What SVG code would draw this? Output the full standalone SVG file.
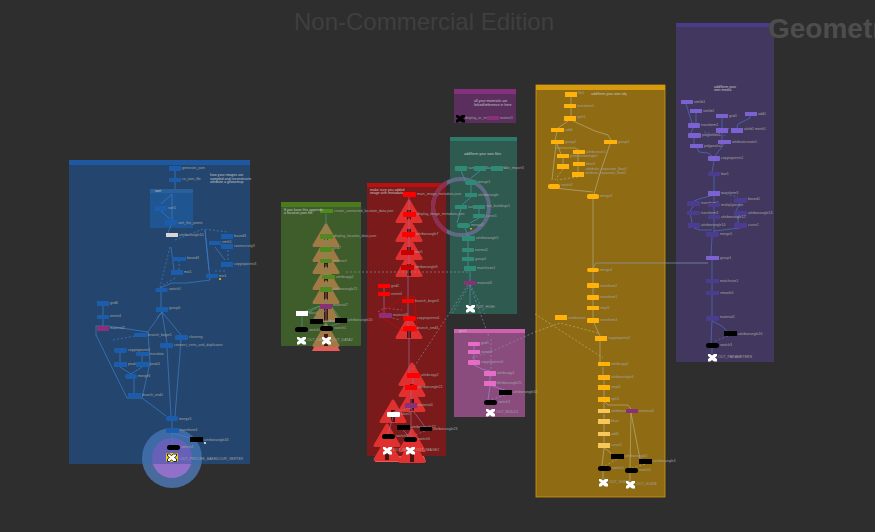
<svg xmlns="http://www.w3.org/2000/svg" xmlns:xlink="http://www.w3.org/1999/xlink" width="875" height="532" viewBox="0 0 875 532">
<style>
text{font-family:"Liberation Sans",Arial,sans-serif}
.l{font-size:3.6px;fill:#a2a2a2}
.c{font-size:3.6px;fill:#c4c4c4}
.w{font-size:24px;fill:#3f3f3f}
.g{font-size:28px;fill:#4d4d4d;font-weight:bold}
.bl{fill:#1b5cab}.gr{fill:#4f8a1f}.rd{fill:#ff0000}.rk{fill:#c80000}.pu{fill:#8a2f78}.te{fill:#2f8a76}.go{fill:#ffb30a}.gl{fill:#f8c75a}
.vi{fill:#7b62d0}.vd{fill:#4c3c90}.pk{fill:#e66cc6}.k{fill:#000}.wh{fill:#fff}.li{fill:#d6d6d6}
#conn path{fill:none;stroke-width:.8;stroke-opacity:.85}
.s1{stroke:#3f80cc}.s2{stroke:#4f9a8a}.s3{stroke:#a06a9a}.s4{stroke:#4f9ab4}.s5{stroke:#b8ae84}.s6{stroke:#4f72c8}.s7{stroke:#a086d8}.s8{stroke:#8f8aa8}
.d{stroke-dasharray:2 2}
</style>
<defs>
<clipPath id="upper"><rect x="100" y="400" width="150" height="64"/></clipPath>
<clipPath id="lower"><rect x="100" y="464" width="150" height="60"/></clipPath>
<clipPath id="ringL"><rect x="425" y="170" width="22" height="80"/></clipPath>
<g id="t"><path d="M0,0L12,20.500L-12,20.500Z" stroke-width="3" stroke-linejoin="round"/><rect x="-2" y="9" width="4" height="12" fill="#4a1510" stroke="none"/></g>
<path id="x" d="M0,0h2l2,1.500l2,-1.500h3v2l-2,1.500l2,1.500v2.500h-3l-2,-1.500l-2,1.500h-2v-2.500l2,-1.500l-2,-1.500z"/>
</defs>
<rect width="875" height="532" fill="#2e2e2e"/>
<text class="w" x="424" y="30" text-anchor="middle">Non-Commercial Edition</text>
<g id="boxes">
<rect x="69" y="160" width="181" height="304" fill="#24466e"/><rect x="69" y="160" width="181" height="5" fill="#1d58a0"/>
<rect x="150" y="189" width="43" height="39" fill="#1f5590"/><rect x="150" y="189" width="43" height="4" fill="#2a6099"/><text class="c" x="155" y="192">sort</text>
<rect x="281" y="202" width="80" height="144" rx="1" fill="#3f5d2b"/><rect x="281" y="202" width="80" height="5" fill="#4e7a1f"/>
<rect x="367" y="183" width="79" height="273" fill="#7a1a1a"/><rect x="367" y="183" width="79" height="4" fill="#bb1010"/>
<rect x="454" y="89" width="62" height="34" fill="#5a2f5d"/><rect x="454" y="89" width="62" height="5" fill="#85307c"/>
<rect x="450" y="137" width="67" height="177" fill="#2f5a50"/><rect x="450" y="137" width="67" height="4" fill="#2b7a6a"/>
<rect x="454" y="329" width="71" height="88" fill="#8a4c7d"/><rect x="454" y="329" width="71" height="4" fill="#d060b0"/>
<rect x="536" y="85" width="129" height="412" fill="#8f6c14" stroke="#cf9a10" stroke-width=".8"/><rect x="536" y="85" width="129" height="5" fill="#d69a0e"/>
<rect x="676" y="23" width="98" height="339" fill="#42375e"/><rect x="676" y="23" width="98" height="4" fill="#4a3c88"/>
</g>
<text class="g" x="768" y="38">Geometry</text>
<g id="marks">
<circle cx="172" cy="458" r="30" fill="#3e6aa6" clip-path="url(#upper)"/>
<circle cx="172" cy="458" r="30" fill="#486a9c" clip-path="url(#lower)"/>
<circle cx="172" cy="458" r="20" fill="#6660b8" clip-path="url(#upper)"/>
<circle cx="172" cy="458" r="20" fill="#9170c9" clip-path="url(#lower)"/>
<circle cx="461" cy="207" r="28" fill="none" stroke="#5f6b84" stroke-width="4"/>
<circle cx="461" cy="207" r="28" fill="none" stroke="#8e2f50" stroke-width="4" clip-path="url(#ringL)"/>
<path d="M314,347h24l2,4h-28z" fill="#e85a5a"/>
<g fill="#a07a45" stroke="#a07a45">
<use xlink:href="#t" x="326" y="225"/><use xlink:href="#t" x="326" y="240"/><use xlink:href="#t" x="326" y="252"/><use xlink:href="#t" x="326" y="268"/><use xlink:href="#t" x="326" y="282"/><use xlink:href="#t" x="326" y="300"/><use xlink:href="#t" x="326" y="325"/>
</g>
<path d="M376,456h48l2,6h-51z" fill="#ec5a5a"/>
<g fill="#e03030" stroke="#e03030">
<use xlink:href="#t" x="409" y="201"/><use xlink:href="#t" x="409" y="220"/><use xlink:href="#t" x="409" y="238"/><use xlink:href="#t" x="409" y="255"/><use xlink:href="#t" x="409" y="317"/>
<use xlink:href="#t" x="412" y="364"/><use xlink:href="#t" x="412" y="375"/><use xlink:href="#t" x="412" y="390"/><use xlink:href="#t" x="393" y="401"/><use xlink:href="#t" x="387" y="425"/><use xlink:href="#t" x="412" y="430"/><use xlink:href="#t" x="387" y="439"/><use xlink:href="#t" x="412" y="441"/>
</g>
</g>
<g id="conn">
<path class="s1" d="M175,171V178M175,182V189M172,194L161,204M172,194L172,220M161,211L170,219M171,225L168,233M171,247L174,270M160,288L172,283H187L210,280L205,230L209,270M215,247L225,260M161,291V307M162,312L157,318"/>
<path class="s1" d="M103,306V315M103,319V326M96,326H108L148,332L150,363L142,398H127L96,335ZM142,398L166,416M162,312L147,333M162,312L181,335M162,312L167,343M167,348L171,416M181,340L175,416M172,421V428M120,353V362M142,356V362M120,367L131,374M142,367L131,374M134,379V393M172,433L190,438M172,433V445"/>
<path class="s1 d" d="M170,247L160,287M179,260V270M175,278L160,287M175,240L203,229L227,232M228,250V262M215,271H225M113,340L140,335"/>
<path class="s2" d="M326,214V234M326,240V247M326,252V259M326,264V275M326,280V287M326,292V304M326,309V326M320,306L306,311M302,316V327M320,306L305,314M332,307L340,318M326,310L316,319M340,323L330,326"/>
<path class="s3" d="M409,197V212M409,217V232M409,237V250M409,255V265M408,270V299M384,288V292M384,296V313M408,303V316M408,321V326M409,331V373M413,378V385M411,390V403M411,408L393,412M411,408V437M411,408L425,427M393,417L388,434M403,430L410,437"/>
<path class="s3 d" d="M378,312L384,308L402,310M385,316L400,320M425,431L410,437"/>
<path d="M378,315L403,297H415L417,331H403Z" fill="none" stroke="#e00000" stroke-width=".7"/>
<path class="s4" d="M461,171L465,180M480,171L471,178M471,183V193M471,197L462,205M479,209V214M479,218L470,223M461,209L457,223M465,228L468,236M468,241V248M468,252V257M468,261V266M470,271V281M470,285V305"/>
<path class="s4 d" d="M470,284L452,314M470,284L485,314"/>
<path class="s8 d" d="M468,272L345,272M468,285L412,370M470,285L489,337M491,339L491,378M533,333L495,350L472,358"/>
<path class="s7" d="M474,346V350M474,354L474,360M474,365L482,369L490,371M490,376V381M492,386L505,390M490,386L488,400"/>
<path class="s7 d" d="M505,395L490,400M492,384L500,381"/>
<path class="s5" d="M571,97V104M571,108V116M568,121L558,128M557,132L555,140M573,121L595,131L608,135L611,140M610,144L600,173L594,194M556,144L552,180M557,144L561,154M556,148L575,148L579,150M563,158V164M578,154V162M578,166V172M554,188L593,192M593,199V268M593,272V283M593,288V295M593,300V306M593,310V318M594,323L600,336M600,341V362M603,367V375M604,380V385M604,390V397M604,402V409M604,414V419M604,424V432M604,436V443M604,448L602,466M604,448L610,452L611,454M605,402L608,405L628,405L631,409M631,413L630,468M631,413L640,459M603,471V479M630,473V481"/>
<path class="s5 d" d="M563,169L555,180M578,177L557,180M617,459L605,466M645,464L632,468M535,332L560,323L598,333M535,314L603,358"/>
<path d="M593,268L596,263H708" stroke="#8f9eb0"/>
<path class="s6" d="M686,104L692,123M696,113V123M693,128L691,133M722,118V128M722,133V140M750,116V118L738,124L737,128M694,138V144M697,148L699,152L708,153L712,156M724,144L715,156M714,161L712,172M714,176V191M714,195L699,199L694,201M714,195V203M694,205L690,211L692,223M714,207V215M714,219V232M740,203L736,211M738,216V223M694,228L700,230L712,230M740,228L714,231M712,237L711,256M712,260V279M712,283V291M712,295V316M712,321L722,326L727,331M712,321L711,343M712,348V354"/>
<path class="s6 d" d="M728,336L715,341M729,128L724,136M714,191L738,197M704,132L722,136"/>
</g>
<g id="n-gen"><rect class="bl" x="169" y="166" width="12" height="5"/><text class="l" x="182" y="169">generate_json</text></g>
<g id="n-cx"><rect class="bl" x="169" y="178" width="12" height="4"/><text class="l" x="182" y="180">cx_json_file</text></g>
<g id="n-note1"><text class="c" x="210" y="176">how your images are</text><text class="c" x="210" y="180">sampled and reconstructs</text><text class="c" x="210" y="183">attribute a gl/warmup</text></g>
<g id="n-sort"><rect class="bl" x="155" y="206" width="12" height="5"/><text class="l" x="168" y="209">sort1</text></g>
<g id="n-sortpts"><rect class="bl" x="165" y="220" width="12" height="5"/><text class="l" x="178" y="224">sort_the_points</text></g>
<g id="n-attr1"><rect class="li" x="166" y="233" width="12" height="4"/><text class="l" x="179" y="236">attribwrangle10</text></g>
<g id="n-b3"><rect class="bl" x="172" y="257" width="14" height="4"/><text class="l" x="187" y="259">bound3</text></g>
<g id="n-mix1"><rect class="bl" x="171" y="270" width="12" height="5"/><text class="l" x="184" y="273">mix1</text></g>
<g id="n-sm"><rect class="bl" x="209" y="241" width="12" height="4"/><text class="l" x="222" y="243">smth1</text></g>
<g id="n-b2"><rect class="bl" x="221" y="234" width="12" height="5"/><text class="l" x="234" y="237">bound3</text></g>
<g id="n-cn"><rect class="bl" x="221" y="244" width="12" height="5"/><text class="l" x="234" y="247">connectivity3</text></g>
<g id="n-cp"><rect class="bl" x="221" y="262" width="12" height="5"/><text class="l" x="234" y="265">copytopoints3</text></g>
<g id="n-mix2"><rect class="bl" x="206" y="274" width="12" height="4"/><text class="l" x="219" y="277">mix1</text></g>
<rect x="219" y="278" width="2" height="2" fill="#e0a010"/>
<g id="n-sw"><rect class="bl" x="155" y="288" width="13" height="4" rx="2"/><text class="l" x="169" y="290">switch1</text></g>
<g id="n-gp"><rect class="bl" x="156" y="307" width="12" height="5" rx="1"/><text class="l" x="169" y="309">group6</text></g>
<g id="n-grid"><rect class="bl" x="97" y="301" width="12" height="5"/><text class="l" x="110" y="304">grid6</text></g>
<g id="n-or"><rect class="bl" x="97" y="315" width="12" height="4"/><text class="l" x="110" y="317">orient4</text></g>
<g id="n-mt"><rect class="pu" x="97" y="326" width="12" height="5" rx="1"/><text class="l" x="110" y="329">material2</text></g>
<g id="n-bb"><rect class="bl" x="134" y="333" width="13" height="4" rx="1"/><text class="l" x="148" y="336">branch_begin1</text></g>
<g id="n-cl"><rect class="bl" x="175" y="335" width="13" height="5" rx="1"/><text class="l" x="189" y="338">cleaning</text></g>
<g id="n-cv"><rect class="bl" x="160" y="343" width="13" height="5" rx="1"/><text class="l" x="174" y="346">connect_verts_and_duplicates</text></g>
<g id="n-ctp"><rect class="bl" x="114" y="348" width="13" height="5" rx="2"/><text class="l" x="128" y="351">copytopoints2</text></g>
<g id="n-tr"><rect class="bl" x="136" y="352" width="13" height="4" rx="1"/><text class="l" x="150" y="355">translate</text></g>
<g id="n-p1"><rect class="bl" x="114" y="362" width="13" height="5"/><text class="l" x="128" y="365">peak3</text></g>
<g id="n-p2"><rect class="bl" x="136" y="362" width="13" height="5"/><text class="l" x="150" y="365">peak4</text></g>
<g id="n-mg"><rect class="bl" x="125" y="374" width="12" height="5" rx="2"/><text class="l" x="138" y="377">merge6</text></g>
<g id="n-be"><rect class="bl" x="128" y="393" width="13" height="5"/><text class="l" x="142" y="396">branch_end1</text></g>
<g id="n-mg3"><rect class="bl" x="166" y="416" width="12" height="5" rx="2"/><text class="l" x="179" y="420">merge3</text></g>
<g id="n-tf"><rect class="bl" x="166" y="428" width="13" height="5" rx="1"/><text class="l" x="180" y="431">transform4</text></g>
<g id="n-aw"><rect class="k" x="190" y="437" width="13" height="5"/><text class="l" x="204" y="441">attribwrangle43</text></g>
<rect x="204" y="442" width="2" height="2" fill="#ccc"/>
<g id="n-sw2"><rect class="k" x="167" y="445" width="13" height="5" rx="2.500"/><text class="l" x="181" y="448">switch4</text></g>
<g id="n-out"><rect x="166" y="453" width="12" height="9" rx="2" fill="#f4cc10"/><use xlink:href="#x" x="167.500" y="454" fill="#fff" stroke="#000" stroke-width=".8"/><text class="l" x="180" y="460">OUT_PROCES_BAKEDOUR_VERTEX</text></g>

<g id="n-g0"><rect class="gr" x="320" y="209" width="13" height="4"/><text class="l" x="334" y="212">create_connected_location_data.json</text></g>
<g id="n-gnote"><text class="c" x="284" y="211">If you have this appends</text><text class="c" x="284" y="214">a location.json file</text></g>
<g id="n-g1"><rect class="gr" x="320" y="234" width="13" height="5" rx="1"/><text class="l" x="334" y="237">display_location_data.json</text></g>
<g id="n-g2"><rect class="gr" x="320" y="247" width="12" height="5" rx="1"/><text class="l" x="333" y="249">grid7</text></g>
<g id="n-g3"><rect class="gr" x="320" y="259" width="12" height="4" rx="1"/><text class="l" x="333" y="262">reverse1</text></g>
<g id="n-g4"><rect class="gr" x="322" y="275" width="13" height="4" rx="1"/><text class="l" x="336" y="278">attribcopy2</text></g>
<g id="n-g5"><rect class="gr" x="320" y="287" width="12" height="5" rx="1"/><text class="l" x="333" y="290">attribwrangle21</text></g>
<g id="n-g6"><rect class="pu" x="320" y="304" width="12" height="5" rx="1"/><text class="l" x="333" y="306">material7</text></g>
<g id="n-g7"><rect class="wh" x="296" y="311" width="12" height="5"/><text class="l" x="309" y="314">blast1</text></g>
<g id="n-g8"><rect class="k" x="310" y="319" width="13" height="5"/><text class="l" x="324" y="322">attribwrangle4</text></g>
<g id="n-g9"><rect class="k" x="335" y="318" width="12" height="5"/><text class="l" x="348" y="321">attribwrangle20</text></g>
<g id="n-g10"><rect class="k" x="295" y="327" width="13" height="5" rx="2.500"/><text class="l" x="309" y="331">switch2</text></g>
<g id="n-g11"><rect class="k" x="320" y="326" width="13" height="5" rx="2.500"/><text class="l" x="334" y="329">switch1</text></g>
<g id="n-g12"><use xlink:href="#x" x="297" y="337" fill="#fff"/><text class="l" x="307" y="341">OUT_DATA1</text></g>
<g id="n-g13"><use xlink:href="#x" x="322" y="337" fill="#fff"/><text class="l" x="332" y="341">OUT_DATA2</text></g>

<g id="n-rnote"><text class="c" x="370" y="191">make sure you added</text><text class="c" x="370" y="194">image with metadata</text></g>
<g id="n-r0"><rect class="rd" x="403" y="192" width="13" height="5" rx="1"/><text class="l" x="417" y="195">main_image_metadata.json</text></g>
<g id="n-r1"><rect class="rd" x="403" y="212" width="13" height="5" rx="1"/><text class="l" x="417" y="215">display_image_metadata.json</text></g>
<g id="n-r2"><rect class="rd" x="402" y="232" width="13" height="5" rx="1"/><text class="l" x="416" y="235">attribwrangle7</text></g>
<g id="n-r3"><rect class="rk" x="401" y="250" width="13" height="5" rx="1"/><text class="l" x="415" y="253">text1</text></g>
<g id="n-r4"><rect class="rk" x="401" y="265" width="13" height="5" rx="1"/><text class="l" x="415" y="268">attribwrangle8</text></g>
<g id="n-r5"><rect class="rd" x="378" y="284" width="12" height="4"/><text class="l" x="391" y="287">grid2</text></g>
<g id="n-r6"><rect class="rd" x="378" y="292" width="12" height="4"/><text class="l" x="391" y="295">orient4</text></g>
<g id="n-r7"><rect class="rd" x="402" y="299" width="12" height="4"/><text class="l" x="415" y="302">branch_begin3</text></g>
<g id="n-r8"><rect class="pu" x="379" y="313" width="13" height="5"/><text class="l" x="393" y="316">material3</text></g>
<g id="n-r9"><rect class="rd" x="403" y="316" width="13" height="5" rx="2"/><text class="l" x="417" y="319">copytopoints4</text></g>
<g id="n-r10"><rect class="rd" x="403" y="326" width="13" height="5" rx="2"/><text class="l" x="417" y="329">branch_end3</text></g>
<g id="n-r11"><rect class="rd" x="407" y="373" width="13" height="5"/><text class="l" x="421" y="376">attribcopy2</text></g>
<g id="n-r12"><rect class="rd" x="405" y="385" width="12" height="5"/><text class="l" x="418" y="388">attribwrangle21</text></g>
<g id="n-r13"><rect class="pu" x="405" y="403" width="12" height="5"/><text class="l" x="418" y="406">material4</text></g>
<g id="n-r14"><rect class="wh" x="387" y="412" width="13" height="5" rx="1"/><text class="l" x="401" y="415">blast2</text></g>
<g id="n-r15"><rect class="k" x="397" y="425" width="13" height="5"/><text class="l" x="411" y="428">attribwrangle22</text></g>
<g id="n-r16"><rect class="k" x="420" y="427" width="12" height="4"/><text class="l" x="433" y="430">attribwrangle23</text></g>
<g id="n-r17"><rect class="k" x="382" y="434" width="13" height="5" rx="2.500"/><text class="l" x="396" y="437">switch5</text></g>
<g id="n-r18"><rect class="k" x="404" y="437" width="13" height="5" rx="2.500"/><text class="l" x="418" y="440">switch6</text></g>
<g id="n-r19"><use xlink:href="#x" x="383" y="447" fill="#fff"/><text class="l" x="393" y="451">OUT_IMG1</text></g>
<g id="n-r20"><use xlink:href="#x" x="406" y="447" fill="#fff"/><text class="l" x="416" y="451">OUT_IMAGE2</text></g>

<g id="n-mnote"><text class="c" x="474" y="102">all your materials are</text><text class="c" x="474" y="106">linked/reference in here</text></g>
<g id="n-m1"><use xlink:href="#x" x="456" y="115" fill="#000"/><text class="l" x="465" y="119">display_or_test</text></g>
<g id="n-m2"><rect class="pu" x="487" y="116" width="12" height="4"/><text class="l" x="500" y="119">matnet1</text></g>

<g id="n-tnote"><text class="c" x="464" y="155">add/form your own files</text></g>
<g id="n-t0"><rect class="te" x="455" y="166" width="12" height="5"/><text class="l" x="468" y="169">sun_import1</text></g>
<g id="n-t1"><rect class="te" x="474" y="166" width="12" height="5"/><text class="l" x="487" y="169">sun_import2</text></g>
<g id="n-t2"><rect class="te" x="491" y="166" width="12" height="5"/><text class="l" x="504" y="169">sun_import3</text></g>
<g id="n-t3"><rect class="te" x="465" y="180" width="12" height="5" rx="2"/><text class="l" x="478" y="183">merge1</text></g>
<g id="n-t4"><rect class="te" x="465" y="193" width="12" height="4"/><text class="l" x="478" y="196">attribwrangle</text></g>
<g id="n-t5"><rect class="te" x="455" y="205" width="12" height="4"/><text class="l" x="468" y="208">sun_filter1</text></g>
<g id="n-t6"><rect class="te" x="473" y="205" width="12" height="4"/><text class="l" x="486" y="207">sun_buildings1</text></g>
<g id="n-t7"><rect class="te" x="473" y="214" width="12" height="4"/><text class="l" x="486" y="217">curve1</text></g>
<g id="n-t8"><rect class="te" x="457" y="223" width="13" height="5" rx="2.500"/><text class="l" x="471" y="226">merge2</text></g>
<rect x="470" y="228" width="2" height="1.500" fill="#d8a010"/>
<g id="n-t9"><rect class="te" x="462" y="236" width="13" height="5"/><text class="l" x="476" y="239">attribwrangle5</text></g>
<g id="n-t10"><rect class="te" x="462" y="248" width="12" height="4" rx="1"/><text class="l" x="475" y="251">normal1</text></g>
<g id="n-t11"><rect class="te" x="462" y="257" width="12" height="4"/><text class="l" x="475" y="260">group1</text></g>
<g id="n-t12"><rect class="te" x="464" y="266" width="12" height="5"/><text class="l" x="477" y="269">matchsize1</text></g>
<g id="n-t13"><rect class="pu" x="464" y="281" width="12" height="4"/><text class="l" x="477" y="284">material3</text></g>
<g id="n-t14"><use xlink:href="#x" x="466" y="305" fill="#fff"/><text class="l" x="476" y="308">OUT_HIGH</text></g>

<g id="n-p0"><rect class="pk" x="468" y="342" width="12" height="4" rx="1"/><text class="l" x="481" y="344">grid1</text></g>
<g id="n-p1a"><rect class="pk" x="468" y="350" width="12" height="4"/><text class="l" x="481" y="353">orient1</text></g>
<g id="n-p2a"><rect class="pk" x="468" y="360" width="12" height="5" rx="1"/><text class="l" x="481" y="363">copytopoints3</text></g>
<g id="n-p3"><rect class="pk" x="484" y="371" width="12" height="5"/><text class="l" x="497" y="374">attribcopy1</text></g>
<g id="n-p4"><rect class="pk" x="484" y="381" width="12" height="5"/><text class="l" x="497" y="384">attribwrangle25</text></g>
<g id="n-p5"><rect class="k" x="499" y="390" width="13" height="5"/><text class="l" x="513" y="393">attribwrangle32</text></g>
<g id="n-p6"><rect class="k" x="484" y="400" width="13" height="5" rx="2.500"/><text class="l" x="498" y="403">switch3</text></g>
<g id="n-p7"><use xlink:href="#x" x="486" y="409" fill="#fff"/><text class="l" x="496" y="413">OUT_BUILD1</text></g>
<text class="c" x="459" y="332">geo1</text>

<g id="n-o0"><rect class="go" x="565" y="92" width="12" height="5"/><text class="l" x="578" y="94">file1</text></g>
<text class="c" x="591" y="95">add/form your own obj</text>
<g id="n-o1"><rect class="go" x="564" y="104" width="12" height="4"/><text class="l" x="577" y="107">transform1</text></g>
<g id="n-o2"><rect class="go" x="564" y="116" width="12" height="5"/><text class="l" x="577" y="118">split1</text></g>
<g id="n-o3"><rect class="go" x="551" y="128" width="13" height="4"/><text class="l" x="565" y="131">add1</text></g>
<g id="n-o4"><rect class="go" x="551" y="140" width="13" height="4"/><text class="l" x="565" y="143">group2</text></g>
<g id="n-o5"><rect class="go" x="604" y="140" width="13" height="4"/><text class="l" x="618" y="143">group3</text></g>
<g id="n-o6"><rect class="go" x="573" y="150" width="12" height="4"/><text class="l" x="586" y="153">attribcreate1</text></g>
<g id="n-o7"><rect class="go" x="557" y="154" width="12" height="4"/><text class="l" x="570" y="157">primitivewrangle1</text></g>
<g id="n-o8"><rect class="go" x="557" y="164" width="12" height="5"/></g>
<g id="n-o9"><rect class="go" x="573" y="162" width="12" height="4"/><text class="l" x="586" y="165">blast1</text></g>
<g id="n-o10"><rect class="go" x="572" y="172" width="12" height="5"/><text class="l" x="585" y="174">attribute_separator_float2</text></g>
<text class="l" x="586" y="170">attribute_separator_float1</text>
<g id="n-o11"><rect class="go" x="548" y="184" width="12" height="5" rx="2"/><text class="l" x="561" y="186">switch2</text></g>
<g id="n-o12"><rect class="go" x="587" y="194" width="12" height="5" rx="2"/><text class="l" x="600" y="197">merge3</text></g>
<g id="n-o13"><rect class="go" x="587" y="268" width="12" height="4" rx="2"/><text class="l" x="600" y="271">merge4</text></g>
<g id="n-o14"><rect class="go" x="587" y="283" width="12" height="5" rx="1"/><text class="l" x="600" y="287">transform2</text></g>
<g id="n-o15"><rect class="go" x="587" y="295" width="12" height="5" rx="1"/><text class="l" x="600" y="298">transform1</text></g>
<g id="n-o16"><rect class="go" x="587" y="306" width="12" height="4"/><text class="l" x="600" y="309">smpl1</text></g>
<g id="n-o17"><rect class="go" x="587" y="318" width="12" height="5" rx="1"/><text class="l" x="600" y="321">transform3</text></g>
<g id="n-o18"><rect class="go" x="555" y="315" width="12" height="5"/><text class="l" x="568" y="319">combinator</text></g>
<g id="n-o19"><rect class="go" x="595" y="336" width="12" height="5"/><text class="l" x="608" y="339">copytopoints2</text></g>
<g id="n-o20"><rect class="go" x="598" y="362" width="12" height="4"/><text class="l" x="611" y="365">attribcopy1</text></g>
<g id="n-o21"><rect class="go" x="598" y="375" width="12" height="5"/><text class="l" x="611" y="378">attribwrangle4</text></g>
<g id="n-o22"><rect class="go" x="598" y="385" width="12" height="5"/><text class="l" x="611" y="388">smpl2</text></g>
<g id="n-o23"><rect class="go" x="598" y="397" width="12" height="5"/><text class="l" x="611" y="400">split1</text></g>
<g id="n-o24"><rect class="gl" x="598" y="409" width="12" height="4"/><text class="l" x="611" y="412">attribwrangle4</text></g>
<g id="n-o25"><rect class="gl" x="598" y="419" width="12" height="5"/><text class="l" x="611" y="422">blast</text></g>
<g id="n-o26"><rect class="gl" x="598" y="432" width="12" height="4"/><text class="l" x="611" y="435">add1</text></g>
<g id="n-o27"><rect class="gl" x="598" y="443" width="12" height="5"/><text class="l" x="611" y="446">curve2</text></g>
<g id="n-o28"><rect class="pu" x="626" y="409" width="12" height="4" rx="1"/><text class="l" x="639" y="412">material4</text></g>
<g id="n-o29"><rect class="k" x="611" y="454" width="13" height="5"/><text class="l" x="625" y="457">attribwrangle2</text></g>
<g id="n-o30"><rect class="k" x="639" y="459" width="13" height="5"/><text class="l" x="653" y="462">attribwrangle3</text></g>
<g id="n-o31"><rect class="k" x="598" y="466" width="13" height="5" rx="2.500"/><text class="l" x="612" y="469">switch1</text></g>
<g id="n-o32"><rect class="k" x="625" y="468" width="13" height="5" rx="2.500"/><text class="l" x="639" y="471">switch2</text></g>
<g id="n-o33"><use xlink:href="#x" x="599" y="479" fill="#fff"/><text class="l" x="609" y="483">OUT_GUIDE</text></g>
<g id="n-o34"><use xlink:href="#x" x="626" y="481" fill="#fff"/><text class="l" x="636" y="485">OUT_GUIDE</text></g>

<g id="n-vnote"><text class="c" x="714" y="88">add/form your</text><text class="c" x="714" y="91">own media</text></g>
<g id="n-v0"><rect class="vi" x="681" y="100" width="12" height="4"/><text class="l" x="694" y="103">simlib1</text></g>
<g id="n-v1"><rect class="vi" x="690" y="109" width="12" height="4"/><text class="l" x="703" y="112">simlib2</text></g>
<g id="n-v2"><rect class="vi" x="716" y="114" width="12" height="4"/><text class="l" x="729" y="117">grid1</text></g>
<g id="n-v3"><rect class="vi" x="745" y="112" width="12" height="4"/><text class="l" x="758" y="115">add1</text></g>
<g id="n-v4"><rect class="vi" x="688" y="123" width="12" height="5" rx="1"/><text class="l" x="701" y="126">transform1</text></g>
<g id="n-v5"><rect class="vi" x="716" y="128" width="12" height="5"/></g>
<g id="n-v6"><rect class="vi" x="731" y="128" width="12" height="5"/><text class="l" x="744" y="130">attrib1 mesh1</text></g>
<g id="n-v7"><rect class="vi" x="688" y="133" width="13" height="5" rx="1"/><text class="l" x="702" y="136">polypeaks1</text></g>
<g id="n-v8"><rect class="vi" x="718" y="140" width="13" height="4"/><text class="l" x="732" y="143">attributecreate1</text></g>
<g id="n-v9"><rect class="vi" x="690" y="144" width="13" height="4"/><text class="l" x="704" y="147">polypeaks2</text></g>
<g id="n-v10"><rect class="vi" x="708" y="156" width="12" height="5" rx="1"/><text class="l" x="721" y="159">copytopoints1</text></g>
<g id="n-v11"><rect class="vd" x="708" y="172" width="12" height="4"/><text class="l" x="721" y="175">box1</text></g>
<g id="n-v12"><rect class="vi" x="708" y="191" width="12" height="5"/><text class="l" x="721" y="194">transform3</text></g>
<g id="n-v13"><rect class="vd" x="734" y="198" width="13" height="5" rx="1"/><text class="l" x="748" y="200">bound1</text></g>
<g id="n-v14"><rect class="vd" x="687" y="201" width="13" height="5" rx="1"/><text class="l" x="701" y="204">transform2</text></g>
<g id="n-v15"><rect class="vd" x="708" y="203" width="12" height="4"/><text class="l" x="721" y="206">multiplyterrain</text></g>
<g id="n-v16"><rect class="vd" x="687" y="211" width="13" height="4" rx="1"/><text class="l" x="701" y="214">transform3</text></g>
<g id="n-v17"><rect class="vd" x="734" y="211" width="13" height="5"/><text class="l" x="748" y="214">attribwrangle13</text></g>
<g id="n-v18"><rect class="vd" x="708" y="215" width="12" height="4"/><text class="l" x="721" y="218">attribwrangle12</text></g>
<g id="n-v19"><rect class="vd" x="688" y="223" width="12" height="5"/><text class="l" x="701" y="226">attribwrangle14</text></g>
<g id="n-v20"><rect class="vd" x="734" y="223" width="13" height="5" rx="1"/><text class="l" x="748" y="226">curve1</text></g>
<g id="n-v21"><rect class="vd" x="706" y="232" width="13" height="5" rx="2"/><text class="l" x="720" y="235">merge5</text></g>
<g id="n-v22"><rect class="vi" x="706" y="256" width="13" height="4"/><text class="l" x="720" y="259">group1</text></g>
<g id="n-v23"><rect class="vd" x="706" y="279" width="13" height="4"/><text class="l" x="720" y="282">matchsize1</text></g>
<g id="n-v24"><rect class="vd" x="706" y="291" width="13" height="4"/><text class="l" x="720" y="294">smooth1</text></g>
<g id="n-v25"><rect class="vd" x="706" y="316" width="13" height="5" rx="2"/><text class="l" x="720" y="318">material1</text></g>
<g id="n-v26"><rect class="k" x="724" y="331" width="13" height="5"/><text class="l" x="738" y="335">attribwrangle16</text></g>
<g id="n-v27"><rect class="k" x="706" y="343" width="13" height="5" rx="2.500"/><text class="l" x="720" y="346">switch3</text></g>
<g id="n-v28"><use xlink:href="#x" x="708" y="354" fill="#fff"/><text class="l" x="718" y="358">OUT_PARAMETERS</text></g>
</svg>
